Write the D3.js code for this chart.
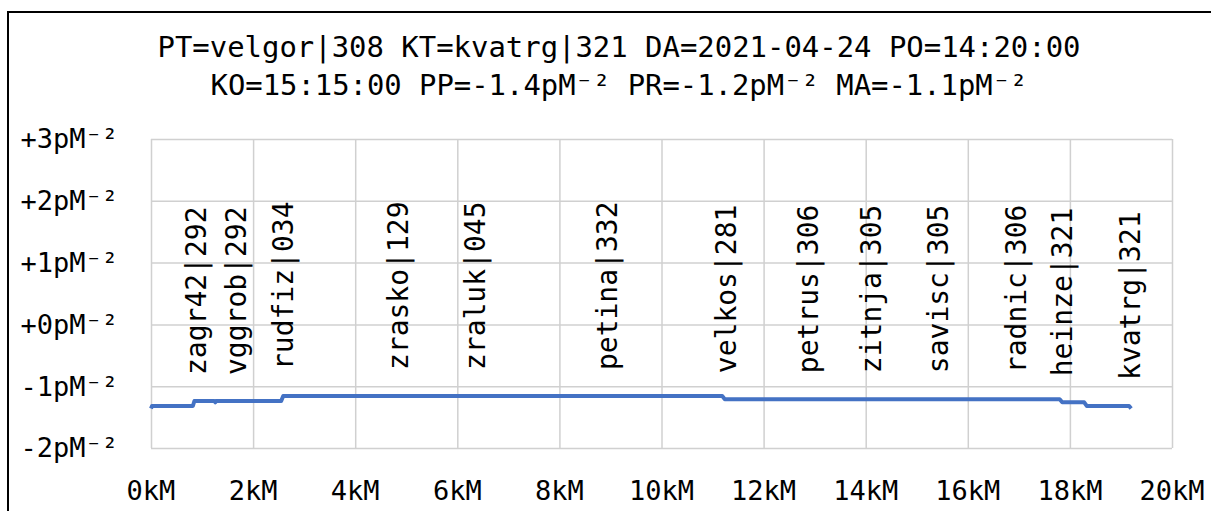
<!DOCTYPE html>
<html><head><meta charset="utf-8">
<script src="https://cdn.jsdelivr.net/npm/d3@7"></script>
<style>body{margin:0;background:#fff}svg{display:block}</style>
</head><body><svg id="c" width="1211" height="511"></svg>
<script>
const titleLines = ["PT=velgor|308 KT=kvatrg|321 DA=2021-04-24 PO=14:20:00",
                    "KO=15:15:00 PP=-1.4pM⁻² PR=-1.2pM⁻² MA=-1.1pM⁻²"];
const xTicks = [0,2,4,6,8,10,12,14,16,18,20];
const xTickLabels = ["0kM","2kM","4kM","6kM","8kM","10kM","12kM","14kM","16kM","18kM","20kM"];
const yTicks = [3,2,1,0,-1,-2];
const yTickLabels = ["+3pM⁻²","+2pM⁻²","+1pM⁻²","+0pM⁻²","-1pM⁻²","-2pM⁻²"];
const profileKm  = [0, 0.02, 0.82, 0.85, 1.24, 1.26, 1.28, 2.55, 2.59, 11.19, 11.24, 17.8, 17.85, 18.28, 18.33, 19.16, 19.2];
const profileVal = [-1.36, -1.32, -1.32, -1.24, -1.24, -1.26, -1.24, -1.24, -1.16, -1.16, -1.21, -1.21, -1.26, -1.26, -1.32, -1.32, -1.36];
const stationNames = ["zagr42|292","vggrob|292","rudfiz|034","zrasko|129","zraluk|045","petina|332","velkos|281","petrus|306","zitnja|305","savisc|305","radnic|306","heinze|321","kvatrg|321"];
const stationKm = [0.90, 1.68, 2.59, 4.84, 6.35, 8.95, 11.28, 12.87, 14.12, 15.42, 16.96, 17.85, 19.18];

const svg = d3.select("#c");
const x = d3.scaleLinear().domain([0,20]).range([151,1172]);
const y = d3.scaleLinear().domain([-2,3]).range([448,139]);
const mono = "'DejaVu Sans Mono', monospace";

svg.append("rect").attr("x",8).attr("y",12).attr("width",1300).attr("height",600)
  .attr("fill","#fff").attr("stroke","#000").attr("stroke-width",2);

// title
const tl = [{t:titleLines[0], y:57, len:923},{t:titleLines[1], y:95, len:817}];
svg.selectAll("text.title").data(tl).join("text").attr("class","title")
  .attr("x",619).attr("y",d=>d.y).attr("text-anchor","middle")
  .attr("font-family",mono).attr("font-size",28).attr("fill","#000")
  .attr("textLength",d=>d.len).attr("lengthAdjust","spacingAndGlyphs")
  .text(d=>d.t);

// grid
const g = svg.append("g");
g.append("g").attr("transform","translate(0,0)")
  .call(d3.axisLeft(y).tickValues(yTicks).tickSize(-(1172-151)).tickFormat(""))
  .attr("transform","translate(151,0)")
  .call(a=>a.select(".domain").remove())
  .call(a=>a.selectAll("line").attr("stroke","#d0d0d0").attr("stroke-width",1.5));
g.append("g").attr("transform","translate(0,448)")
  .call(d3.axisBottom(x).tickValues(xTicks).tickSize(-(448-139)).tickFormat(""))
  .call(a=>a.select(".domain").remove())
  .call(a=>a.selectAll("line").attr("stroke","#d0d0d0").attr("stroke-width",1.5));

// tick labels
svg.selectAll("text.yt").data(yTicks).join("text").attr("class","yt")
  .attr("x",118).attr("y",d=>y(d)).attr("dy","0.35em").attr("text-anchor","end")
  .attr("font-family",mono).attr("font-size",27).attr("fill","#000")
  .text((d,i)=>yTickLabels[i]);
svg.selectAll("text.xt").data(xTicks).join("text").attr("class","xt")
  .attr("x",d=>x(d)).attr("y",500).attr("text-anchor","middle")
  .attr("font-family",mono).attr("font-size",27).attr("fill","#000")
  .text((d,i)=>xTickLabels[i]);

// line
const pts = profileKm.map((k,i)=>[k,profileVal[i]]);
svg.append("path").datum(pts)
  .attr("d", d3.line().x(d=>x(d[0])).y(d=>y(d[1])))
  .attr("fill","none").attr("stroke","#4472C4").attr("stroke-width",4)
  .attr("stroke-linejoin","round");

// station labels
function valAt(k){ const i = Math.min(d3.bisectRight(profileKm,k), profileKm.length-1); return profileVal[Math.max(i-1,0)]; }
svg.selectAll("text.st").data(stationNames).join("text").attr("class","st")
  .attr("transform",(d,i)=>`translate(${x(stationKm[i])},${y(valAt(stationKm[i]))-26}) rotate(-90)`)
  .attr("dominant-baseline","central")
  .attr("font-family",mono).attr("font-size",28).attr("fill","#000")
  .text(d=>d);
</script></body></html>
